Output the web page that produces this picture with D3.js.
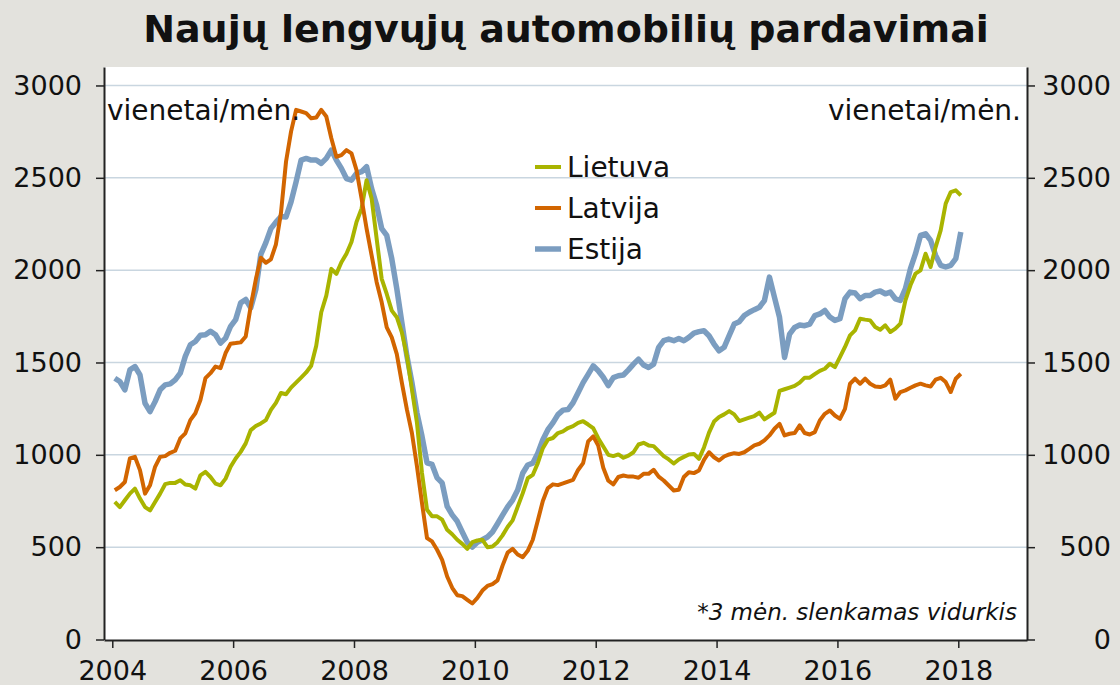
<!DOCTYPE html>
<html>
<head>
<meta charset="utf-8">
<script src="https://cdn.jsdelivr.net/npm/d3@7"></script>
<style>
  body { margin: 0; background: #e3e2dd; }
  text { font-family: "DejaVu Sans", Verdana, sans-serif; fill: #111; }
</style>
</head>
<body>
<script>
// monthly values, Jan 2004 .. Jan 2018 (3 month moving average)
const startYear = 2004;

const lietuva = [
  745, 717, 754, 790, 817, 763, 717, 699, 745, 790, 841, 848,
  848, 862, 839, 835, 817, 889, 908, 880, 844, 835, 871, 935,
  980, 1016, 1062, 1134, 1156, 1170, 1188, 1243, 1281, 1335, 1328, 1364,
  1391, 1418, 1446, 1482, 1591, 1772, 1862, 2007, 1980, 2043, 2089, 2152,
  2261, 2333, 2487, 2388, 2170, 1953, 1871, 1781, 1745, 1663, 1536, 1355,
  1174, 902, 703, 667, 667, 649, 594, 570, 540, 518, 491, 527,
  536, 540, 500, 504, 527, 564, 609, 645, 718, 791, 873, 891,
  955, 1036, 1082, 1091, 1118, 1127, 1145, 1155, 1173, 1182, 1164, 1145,
  1090, 1045, 1000, 993, 1002, 984, 996, 1014, 1056, 1065, 1051, 1047,
  1020, 993, 975, 953, 975, 989, 1002, 1005, 978, 1040, 1120, 1180,
  1205, 1219, 1237, 1219, 1183, 1192, 1201, 1210, 1228, 1192, 1210, 1228,
  1346, 1355, 1364, 1373, 1391, 1418, 1418, 1437, 1455, 1466, 1493, 1475,
  1529, 1584, 1647, 1674, 1737, 1732, 1728, 1692, 1677, 1701, 1665, 1683,
  1710, 1836, 1918, 1981, 1999, 2089, 2017, 2125, 2215, 2360, 2423, 2432,
  2405
];

const latvija = [
  808, 826, 853, 980, 989, 917, 790, 835, 935, 989, 993, 1011,
  1022, 1089, 1116, 1188, 1225, 1297, 1415, 1442, 1478, 1469, 1551, 1602,
  1605, 1609, 1641, 1805, 1949, 2067, 2040, 2058, 2140, 2310, 2587, 2750,
  2868, 2859, 2850, 2822, 2826, 2868, 2832, 2714, 2614, 2623, 2650, 2632,
  2542, 2388, 2225, 2080, 1935, 1826, 1690, 1636, 1545, 1391, 1246, 1118,
  938, 739, 549, 531, 486, 431, 341, 280, 240, 235, 215, 195,
  225, 265, 290, 300, 320, 400, 470, 491, 460, 446, 480, 540,
  645, 750, 820, 840, 836, 845, 855, 864, 918, 955, 1073, 1100,
  1050, 930, 860, 840, 880, 888, 882, 882, 876, 897, 897, 919,
  882, 861, 834, 807, 811, 880, 906, 901, 915, 973, 1014, 987,
  969, 991, 1002, 1009, 1005, 1014, 1032, 1051, 1060, 1078, 1105, 1141,
  1168, 1105, 1114, 1118, 1159, 1118, 1110, 1123, 1186, 1222, 1240, 1213,
  1195, 1249, 1385, 1412, 1385, 1412, 1385, 1370, 1367, 1376, 1407, 1304,
  1340, 1349, 1363, 1376, 1385, 1376, 1370, 1407, 1417, 1394, 1340, 1412,
  1439
];

const estija = [
  1415, 1397, 1352, 1460, 1478, 1433, 1279, 1234, 1288, 1352, 1379, 1384,
  1406, 1442, 1533, 1596, 1614, 1647, 1650, 1669, 1650, 1605, 1632, 1696,
  1732, 1823, 1841, 1796, 1895, 2085, 2149, 2225, 2260, 2290, 2288, 2370,
  2478, 2596, 2605, 2596, 2596, 2578, 2605, 2650, 2596, 2551, 2496, 2487,
  2524, 2533, 2560, 2442, 2351, 2225, 2188, 2062, 1899, 1717, 1536, 1391,
  1228, 1101, 957, 948, 875, 848, 721, 675, 640, 582, 527, 500,
  527, 540, 555, 582, 627, 673, 718, 755, 809, 900, 945, 955,
  1009, 1082, 1136, 1173, 1218, 1242, 1245, 1282, 1336, 1391, 1436, 1482,
  1455, 1420, 1375, 1418, 1428, 1432, 1460, 1491, 1518, 1486, 1473, 1491,
  1582, 1618, 1627, 1618, 1630, 1618, 1636, 1659, 1667, 1672, 1645, 1600,
  1563, 1582, 1645, 1708, 1721, 1754, 1772, 1786, 1799, 1835, 1962, 1853,
  1745, 1527, 1654, 1690, 1703, 1699, 1708, 1754, 1763, 1782, 1746, 1728,
  1737, 1845, 1881, 1876, 1845, 1863, 1863, 1881, 1887, 1872, 1881, 1845,
  1836, 1900, 2008, 2089, 2188, 2197, 2161, 2080, 2026, 2017, 2026, 2062,
  2206
];

const seriesNames = ["Lietuva", "Latvija", "Estija"];
const yTicks = [0, 500, 1000, 1500, 2000, 2500, 3000];
const xTicks = [2004, 2006, 2008, 2010, 2012, 2014, 2016, 2018];

(function() {

  let svgContainer = "";
  const colors = { "Lietuva": "#a9b400", "Latvija": "#d26500", "Estija": "#7b9dc0" };
  const widths = { "Lietuva": 4, "Latvija": 4, "Estija": 5.5 };

  window.onload = function() {
    svgContainer = d3.select("body")
      .append("svg")
      .attr("width", 1120)
      .attr("height", 685);

    let series = [
      { name: "Lietuva", values: lietuva },
      { name: "Latvija", values: latvija },
      { name: "Estija", values: estija }
    ];

    let scales = drawAxes();
    plotData(series, scales);
    drawLabels();
  }

  function drawAxes() {
    // plot box
    svgContainer.append("rect")
      .attr("x", 104).attr("y", 67)
      .attr("width", 923).attr("height", 573)
      .attr("fill", "#fff");

    let xScale = d3.scaleLinear()
      .domain([2003.863, 2019.137])
      .range([104, 1027]);

    let yScale = d3.scaleLinear()
      .domain([0, 3100])
      .range([639.5, 67]);

    // grid lines
    svgContainer.append("g")
      .selectAll("line")
      .data(yTicks.filter(d => d > 0))
      .enter()
      .append("line")
      .attr("x1", 104).attr("x2", 1027)
      .attr("y1", d => yScale(d)).attr("y2", d => yScale(d))
      .attr("stroke", "#c9d6e0")
      .attr("stroke-width", 1.5);

    let fmt = d3.format("d");

    let yLeft = d3.axisLeft(yScale).tickValues(yTicks).tickFormat(fmt)
      .tickSize(8).tickSizeOuter(0).tickPadding(14);
    let gl = svgContainer.append("g")
      .attr("transform", "translate(104, 0)")
      .call(yLeft);

    let yRight = d3.axisRight(yScale).tickValues(yTicks).tickFormat(fmt)
      .tickSize(8).tickSizeOuter(0);
    let gr = svgContainer.append("g")
      .attr("transform", "translate(1027, 0)")
      .call(yRight);
    gr.selectAll("text").attr("x", 84).attr("text-anchor", "end");

    let xAxis = d3.axisBottom(xScale).tickValues(xTicks).tickFormat(fmt)
      .tickSize(8).tickSizeOuter(0);
    let gb = svgContainer.append("g")
      .attr("transform", "translate(0, 640)")
      .call(xAxis);
    gb.selectAll("text").attr("y", 40).attr("dy", null);

    [gl, gr, gb].forEach(function(g) {
      g.selectAll("text")
        .style("font-size", "27px")
        .style("font-family", "'DejaVu Sans', Verdana, sans-serif")
        .attr("fill", "#111");
      g.selectAll("line").attr("stroke", "#222").attr("stroke-width", 1.5);
      g.select(".domain").attr("stroke", "#222").attr("stroke-width", 2);
    });

    return { x: xScale, y: yScale };
  }

  function plotData(series, scales) {
    let line = d3.line()
      .x((d, i) => scales.x(startYear + (i + 0.5) / 12))
      .y((d) => scales.y(d));

    // Estija underneath, Latvija on top
    let order = ["Estija", "Lietuva", "Latvija"];
    order.forEach(function(name) {
      let s = series.find(d => d.name === name);
      svgContainer.append("path")
        .datum(s.values)
        .attr("d", line)
        .attr("fill", "none")
        .attr("stroke", colors[name])
        .attr("stroke-width", widths[name])
        .attr("stroke-linejoin", "round");
    });

    // legend
    let legend = svgContainer.append("g")
      .selectAll("g")
      .data(seriesNames)
      .enter()
      .append("g")
      .attr("transform", (d, i) => "translate(535," + [167, 208, 249][i] + ")");

    legend.append("line")
      .attr("x1", 0).attr("x2", 26)
      .attr("stroke", (d) => colors[d])
      .attr("stroke-width", (d) => widths[d]);

    legend.append("text")
      .attr("x", 32).attr("y", 10)
      .style("font-size", "28px")
      .text((d) => d);
  }

  function drawLabels() {
    svgContainer.append("text")
      .attr("x", 566).attr("y", 42)
      .attr("text-anchor", "middle")
      .style("font-size", "38px")
      .style("font-weight", "bold")
      .text("Naujų lengvųjų automobilių pardavimai");

    svgContainer.append("text")
      .attr("x", 107).attr("y", 120)
      .style("font-size", "28px")
      .text("vienetai/mėn.");

    svgContainer.append("text")
      .attr("x", 1021).attr("y", 120)
      .attr("text-anchor", "end")
      .style("font-size", "28px")
      .text("vienetai/mėn.");

    svgContainer.append("text")
      .attr("x", 1017).attr("y", 620)
      .attr("text-anchor", "end")
      .style("font-size", "23px")
      .style("font-style", "italic")
      .text("*3 mėn. slenkamas vidurkis");
  }

})();
</script>
</body>
</html>
